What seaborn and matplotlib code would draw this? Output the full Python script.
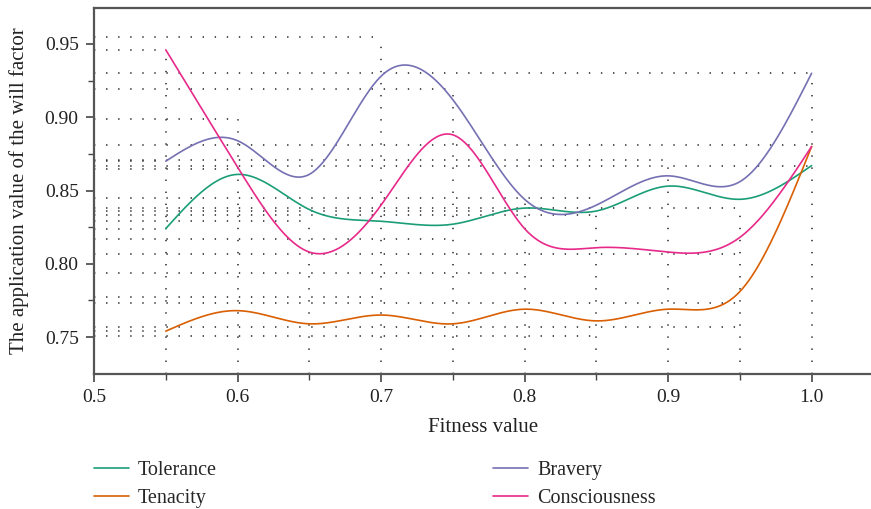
import numpy as np
import pandas as pd
import matplotlib
matplotlib.use("Agg")
import matplotlib.pyplot as plt
import seaborn as sns
from matplotlib.ticker import MultipleLocator, FormatStrFormatter

# ---------------- data ----------------
fitness = [0.55, 0.60, 0.65, 0.70, 0.75, 0.80, 0.85, 0.90, 0.95, 1.00]
tolerance = [0.824, 0.861, 0.837, 0.829, 0.827, 0.838, 0.836, 0.853, 0.844, 0.867]
tenacity = [0.754, 0.768, 0.759, 0.765, 0.759, 0.769, 0.761, 0.769, 0.781, 0.880]
bravery = [0.870, 0.884, 0.861, 0.928, 0.912, 0.844, 0.840, 0.860, 0.856, 0.930]
consciousness = [0.946, 0.866, 0.808, 0.840, 0.888, 0.824, 0.811, 0.808, 0.818, 0.880]
series_names = ["Tolerance", "Tenacity", "Bravery", "Consciousness"]

# dotted guide lines: horizontal (end x, y) and vertical (x, top y)
guide_h_x = [0.70, 0.55, 1.00, 0.75, 0.60, 1.00, 0.90, 0.55, 1.00, 0.60, 0.85, 0.95,
             0.80, 0.85, 0.65, 0.55, 0.75, 0.95, 0.80, 0.70, 0.95, 0.95, 0.55, 0.85]
guide_h_y = [0.955, 0.946, 0.930, 0.919, 0.899, 0.881, 0.871, 0.870, 0.867, 0.865, 0.845, 0.838,
             0.836, 0.833, 0.829, 0.824, 0.817, 0.807, 0.7935, 0.777, 0.773, 0.757, 0.754, 0.751]
guide_v_x = [0.55, 0.60, 0.65, 0.70, 0.75, 0.80, 0.85, 0.90, 0.95, 1.00]
guide_v_top = [0.946, 0.899, 0.827, 0.955, 0.919, 0.845, 0.837, 0.871, 0.838, 0.930]

XMIN, XMAX = 0.5, 1.0426
YMIN, YMAX = 0.7251, 0.9749


def natural_spline(x, y, xs):
    x = np.asarray(x, float)
    y = np.asarray(y, float)
    n = len(x)
    h = np.diff(x)
    A = np.zeros((n, n))
    r = np.zeros(n)
    A[0, 0] = 1
    A[-1, -1] = 1
    for i in range(1, n - 1):
        A[i, i - 1] = h[i - 1]
        A[i, i] = 2 * (h[i - 1] + h[i])
        A[i, i + 1] = h[i]
        r[i] = 6 * ((y[i + 1] - y[i]) / h[i] - (y[i] - y[i - 1]) / h[i - 1])
    M = np.linalg.solve(A, r)
    out = np.empty_like(xs)
    for k, xv in enumerate(xs):
        i = min(max(np.searchsorted(x, xv) - 1, 0), n - 2)
        t1 = x[i + 1] - xv
        t0 = xv - x[i]
        out[k] = (M[i] * t1 ** 3 / (6 * h[i]) + M[i + 1] * t0 ** 3 / (6 * h[i])
                  + (y[i] / h[i] - M[i] * h[i] / 6) * t1
                  + (y[i + 1] / h[i] - M[i + 1] * h[i] / 6) * t0)
    return out


xs = np.linspace(fitness[0], fitness[-1], 400)
frames = []
for name, vals in zip(series_names, [tolerance, tenacity, bravery, consciousness]):
    frames.append(pd.DataFrame({"Fitness value": xs,
                                "value": natural_spline(fitness, vals, xs),
                                "series": name}))
df = pd.concat(frames, ignore_index=True)

sns.set_theme(style="white")
plt.rcParams["font.family"] = ["Liberation Serif", "DejaVu Serif"]

fig = plt.figure(figsize=(8.71, 5.09), dpi=100)
ax = fig.add_axes([94 / 871, 1 - 373.5 / 509, (871 - 94) / 871 + 0.002, (373.5 - 7.5) / 509])

dot_style = dict(colors="#222222", linestyles=(0, (0.9, 7)), linewidth=1.1, zorder=1)
for gx, gy in zip(guide_h_x, guide_h_y):
    ax.hlines(gy, XMIN, gx, **dot_style)
for gx, gt in zip(guide_v_x, guide_v_top):
    ax.vlines(gx, YMIN, gt, **dot_style)

palette = dict(zip(series_names, sns.color_palette("Dark2", 4)))
sns.lineplot(data=df, x="Fitness value", y="value", hue="series", palette=palette,
             linewidth=1.2, ax=ax, zorder=3, sort=False, estimator=None)

ax.set_xlim(XMIN, XMAX)
ax.set_ylim(YMIN, YMAX)
ax.xaxis.set_major_locator(MultipleLocator(0.1))
ax.xaxis.set_minor_locator(MultipleLocator(0.05))
ax.yaxis.set_major_locator(MultipleLocator(0.05))
ax.yaxis.set_minor_locator(MultipleLocator(0.025))
ax.xaxis.set_major_formatter(FormatStrFormatter("%.1f"))
ax.yaxis.set_major_formatter(FormatStrFormatter("%.2f"))
ax.tick_params(axis="both", which="major", direction="out", length=6, width=1.2,
               color="#444444", labelsize=14, labelcolor="#222222", pad=5,
               bottom=True, left=True)
ax.tick_params(axis="both", which="minor", direction="out", length=4, width=1.0,
               color="#444444", bottom=True, left=True)

for side in ["left", "bottom", "top"]:
    ax.spines[side].set_color("#555555")
    ax.spines[side].set_linewidth(1.6)
ax.spines["right"].set_visible(False)

ax.set_xlabel("Fitness value", fontsize=15, color="#222222", labelpad=9)
ax.set_ylabel("The application value of the will factor", fontsize=15,
              color="#222222", labelpad=11)

handles, labels = ax.get_legend_handles_labels()
ax.legend(handles, labels, ncol=2, frameon=False, fontsize=14.5,
          loc="upper left", bbox_to_anchor=(0.0, -0.238), handlelength=1.74,
          handletextpad=0.45, columnspacing=13.7, labelspacing=0.46,
          borderaxespad=0, borderpad=0)

fig.savefig("out.png", dpi=100)
